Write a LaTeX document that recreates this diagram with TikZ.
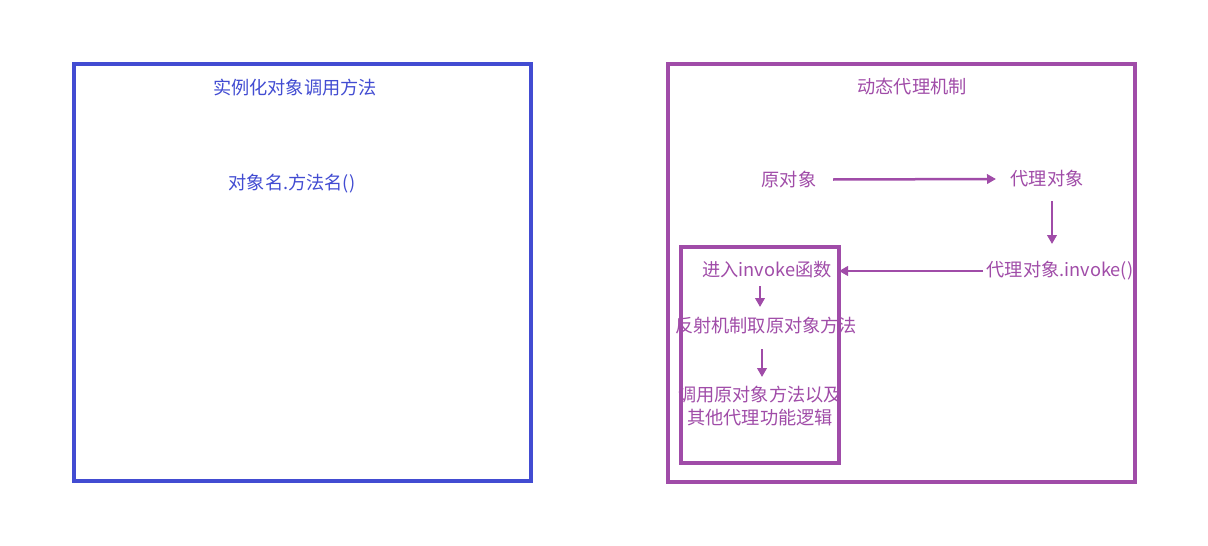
\documentclass[tikz,border=0pt]{standalone}
\usepackage{fontspec}
\setmainfont{Noto Sans CJK SC}
\usetikzlibrary{arrows.meta}
\definecolor{bblue}{RGB}{66,76,210}
\definecolor{ppurple}{RGB}{160,76,168}
\tikzset{
  frame/.style={draw=#1, line width=3.5pt},
  lbl/.style={text=#1, font=\fontsize{18.2}{22}\selectfont, inner sep=0pt, align=center},
  arr/.style={draw=ppurple, line width=2.5pt, -{Triangle[length=9pt,width=9.5pt]}}
}
\begin{document}
\begin{tikzpicture}[x=1pt,y=-1pt]
\useasboundingbox (0,0) rectangle (1208,546);
\fill[white] (0,0) rectangle (1208,546);
% boxes
\node[frame=bblue, minimum width=457pt, minimum height=417pt, inner sep=0pt] (lbox) at (302.5,272.5) {};
\node[frame=ppurple, minimum width=467pt, minimum height=418pt, inner sep=0pt] (rbox) at (901.5,273) {};
\node[frame=ppurple, minimum width=158pt, minimum height=216pt, inner sep=0pt] (ibox) at (760,355) {};
% left texts
\node[lbl=bblue] (t1) at (295,88) {实例化对象调用方法};
\node[lbl=bblue] (t2) at (292,184) {对象名.方法名()};
% right texts
\node[lbl=ppurple] (t3) at (912,87) {动态代理机制};
\node[lbl=ppurple] (orig) at (789,180) {原对象};
\node[lbl=ppurple] (proxy) at (1047,179) {代理对象};
\node[lbl=ppurple] (inv) at (1060,271) {代理对象.invoke()};
\node[lbl=ppurple] (enter) at (767,270) {进入invoke函数};
\node[lbl=ppurple] (refl) at (766,326) {反射机制取原对象方法};
\node[lbl=ppurple, font=\fontsize{18.2}{23}\selectfont] (call) at (760,406) {调用原对象方法以及\\其他代理功能逻辑};
% arrows
\draw[arr] (833,179.5) -- (996,179);
\draw[arr] (1052,201) -- (1052,244);
\draw[arr] (983,271) -- (839,271);
\draw[arr] (760,286) -- (760,307);
\draw[arr] (762,349) -- (762,377);
\end{tikzpicture}
\end{document}
